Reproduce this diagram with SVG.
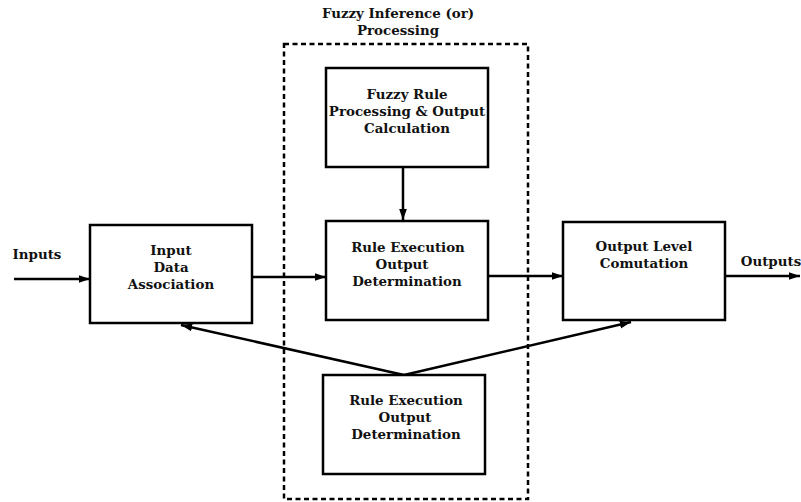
<svg xmlns="http://www.w3.org/2000/svg" width="801" height="502" viewBox="0 0 801 502">
<defs>
<style>
.box{fill:#fff;stroke:#000;stroke-width:2.5}
.t{font-family:"DejaVu Serif","Liberation Serif",serif;font-weight:bold;font-size:13.4px;text-anchor:middle;fill:#111}
.c{stroke:#000;stroke-width:2.5;fill:none}
</style>
<marker id="ah" viewBox="0 0 10 10" refX="10" refY="5" markerWidth="4.5" markerHeight="4.5" orient="auto" markerUnits="strokeWidth">
<path d="M0,1.5 L10,5 L0,8.5 z" fill="#000"/>
</marker>
</defs>
<rect width="801" height="502" fill="#fff"/>
<g id="fuzzy-inference-group">
<rect x="284" y="44" width="244" height="455" fill="none" stroke="#000" stroke-width="2.5" stroke-dasharray="5,3.5"/>
<text class="t" x="398" y="18">Fuzzy Inference (or)</text>
<text class="t" x="398" y="35">Processing</text>
</g>
<g id="connectors">
<line class="c" x1="14" y1="279" x2="90" y2="279" marker-end="url(#ah)"/>
<line class="c" x1="252" y1="277" x2="326" y2="277" marker-end="url(#ah)"/>
<line class="c" x1="403" y1="167" x2="403" y2="220" marker-end="url(#ah)"/>
<line class="c" x1="488" y1="276" x2="563" y2="276" marker-end="url(#ah)"/>
<line class="c" x1="725" y1="276" x2="800" y2="276" marker-end="url(#ah)"/>
<line class="c" x1="404" y1="375" x2="181" y2="325" marker-end="url(#ah)"/>
<line class="c" x1="404" y1="375" x2="631" y2="322" marker-end="url(#ah)"/>
<text class="t" x="37" y="259">Inputs</text>
<text class="t" x="771" y="266">Outputs</text>
</g>
<g id="fuzzy-rule">
<rect class="box" x="326" y="68" width="162" height="99"/>
<text class="t" x="407" y="99">Fuzzy Rule</text>
<text class="t" x="407" y="116">Processing &amp; Output</text>
<text class="t" x="407" y="133">Calculation</text>
</g>
<g id="rule-exec-mid">
<rect class="box" x="326" y="221" width="162" height="99"/>
<text class="t" x="408" y="252">Rule Execution</text>
<text class="t" x="402" y="269">Output</text>
<text class="t" x="407" y="286">Determination</text>
</g>
<g id="input-data">
<rect class="box" x="90" y="225" width="162" height="98"/>
<text class="t" x="171" y="255">Input</text>
<text class="t" x="171" y="272">Data</text>
<text class="t" x="171" y="289">Association</text>
</g>
<g id="output-level">
<rect class="box" x="563" y="222" width="162" height="98"/>
<text class="t" x="644" y="251">Output Level</text>
<text class="t" x="644" y="268">Comutation</text>
</g>
<g id="rule-exec-bottom">
<rect class="box" x="323" y="375" width="162" height="99"/>
<text class="t" x="406" y="405">Rule Execution</text>
<text class="t" x="405" y="422">Output</text>
<text class="t" x="406" y="439">Determination</text>
</g>
</svg>
